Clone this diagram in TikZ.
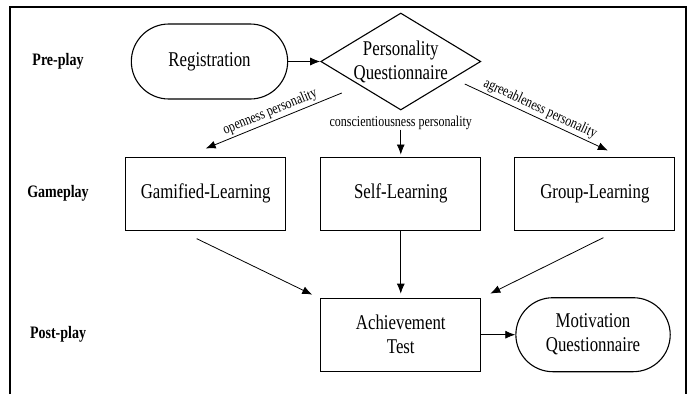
\documentclass[tikz,border=0pt]{standalone}
\usepackage{fontspec}
\setmainfont{Liberation Serif}[FakeStretch=0.8]
\usepackage{tikz}
\usetikzlibrary{arrows.meta,calc,positioning,shapes}

\begin{document}
\begin{tikzpicture}[auto,x=1pt,y=1pt,>={Latex[length=10pt,width=8pt]}]
	\tikzstyle{block} = [draw, rectangle, line width=1.1pt, minimum height=73pt, minimum width=160pt, align=center, font=\fontsize{21}{24}\selectfont]
	\tikzstyle{term} = [block, rounded rectangle, minimum width=163pt, minimum height=75pt]
	\tikzstyle{phase} = [font=\fontsize{17.5}{20}\selectfont\bfseries]
	\tikzstyle{edge} = [font=\fontsize{15}{17}\selectfont]
	\tikzstyle{conn} = [->, line width=0.8pt]
	
	\useasboundingbox (0,0) rectangle (692,-394);
	\draw [line width=1.1pt] (10,-394) -- (10,-7) -- (686,-7) -- (686,-394);
	
	\node [term] (registration) at (209.5,-61.5) {Registration};
	\node [block, diamond, minimum width=160pt, minimum height=97pt, right = 32pt of registration, label={[align=center, font=\fontsize{21}{24}\selectfont]center:Personality\\Questionnaire}] (personality) {};
	
	\node [block, below = 46pt of personality] (self) {Self-Learning};
	\node [block, left = 34pt of self] (gamified) {Gamified-Learning};
	\node [block, right = 33pt of self] (group) {Group-Learning};
	
	\node [block, below = 67pt of self] (achievement) {Achievement\\Test};
	\node [term, right = 34pt of achievement, minimum width=161pt, minimum height=74pt] (motivation) {Motivation\\Questionnaire};
	
	\node [coordinate] (phasex) at (58,0) {};
	\node [phase] (preplay) at (registration -| phasex) {Pre-play};
	\node [phase] (gameplay) at (gamified -| phasex) {Gameplay};
	\node [phase] (postplay) at (achievement -| phasex) {Post-play};
	
	\node [coordinate, below left = 31.5pt and 59pt of personality.center] (open) {};
	\node [coordinate, above = 8pt of gamified.north] (openend) {};
	\node [edge, inner sep=0pt, below = 5pt of personality.south] (consc) {conscientiousness personality};
	\node [coordinate, below right = 22.5pt and 64pt of personality.center] (agree) {};
	\node [coordinate, above right = 6pt and 13pt of group.north] (agreeend) {};
	
	\node [coordinate, below left = 8pt and 9pt of gamified.south] (g1) {};
	\node [coordinate, above left = 3pt and 8pt of achievement.north west] (g2) {};
	\node [coordinate, below right = 7pt and 8.5pt of group.south] (r1) {};
	\node [coordinate, above right = 4pt and 9pt of achievement.north east] (r2) {};
	
	\draw [conn] (registration) -- (personality);
	\draw [conn] (open) --node[edge, sloped, above, inner sep=2pt]{openness personality} (openend);
	\draw [conn, shorten >=2pt] (consc) -- (self);
	\draw [conn] (agree) --node[edge, sloped, above, inner sep=2pt]{agreeableness personality} (agreeend);
	
	\draw [conn] (g1) -- (g2);
	\draw [conn, shorten >=4pt] (self) -- (achievement);
	\draw [conn] (r1) -- (r2);
	\draw [conn] (achievement) -- (motivation);
	
\end{tikzpicture}
\end{document}
